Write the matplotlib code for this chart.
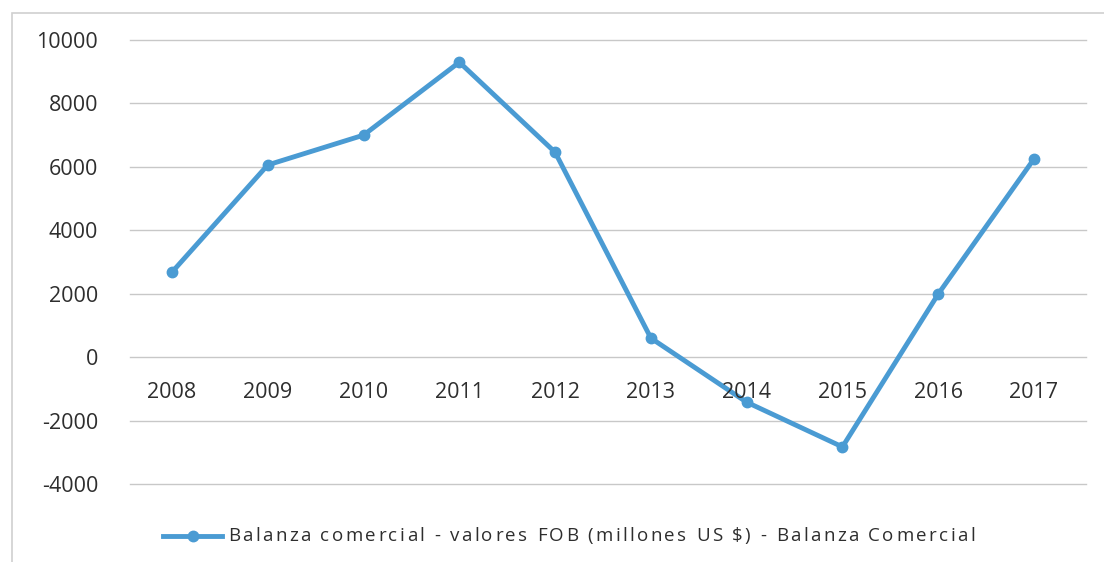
import matplotlib.pyplot as plt
from matplotlib.patches import Rectangle

plt.rcParams['font.family'] = ['Open Sans', 'DejaVu Sans']

years = ['2008', '2009', '2010', '2011', '2012', '2013', '2014', '2015', '2016', '2017']
balanza = [2680, 6060, 7000, 9300, 6460, 600, -1420, -2830, 1990, 6250]
yticks = [-4000, -2000, 0, 2000, 4000, 6000, 8000, 10000]
serie = 'Balanza comercial - valores FOB (millones US $) - Balanza Comercial'

azul = '#4A9BD3'
texto = '#2e2e2e'
rejilla = '#c8c8c8'
W, H = 1104, 562

fig = plt.figure(figsize=(W / 100, H / 100), dpi=100)
ax = fig.add_axes([130 / W, 1 - 484 / H, 956 / W, 444 / H])

# marco del grafico (solo arriba e izquierda visibles)
fig.patches.append(Rectangle((12 / W, -0.1), 1.2, 1 - 13 / H + 0.1,
                             transform=fig.transFigure, fill=False,
                             edgecolor='#d0d0d0', linewidth=1.2))

x = list(range(len(years)))
ax.plot(x, balanza, color=azul, linewidth=3.5, marker='o', markersize=7.5,
        solid_capstyle='round', solid_joinstyle='round', zorder=3, clip_on=False)

ax.set_xlim(-0.4385, 9.543)
ax.set_ylim(-4000, 10000)
ax.set_yticks(yticks)
ax.set_yticklabels([str(v) for v in yticks], fontsize=15.5, color=texto)
ax.tick_params(axis='y', length=0, pad=23)
ax.set_xticks([])
ax.yaxis.grid(True, color=rejilla, linewidth=1)
for gl in ax.get_ygridlines():
    gl.set_clip_on(False)
ax.set_axisbelow(True)
for s in ax.spines.values():
    s.set_visible(False)

# etiquetas de los anos bajo la linea del cero
for i, yr in enumerate(years):
    ax.text(i, -1100, yr, ha='center', va='center', fontsize=15.5, color=texto)

# leyenda
ly = 1 - 536 / H
fig.lines.append(plt.Line2D([163 / W, 222 / W], [ly, ly], transform=fig.transFigure,
                            color=azul, linewidth=3.5))
fig.lines.append(plt.Line2D([192.5 / W], [ly], transform=fig.transFigure,
                            color=azul, marker='o', markersize=7.5))

# texto de la leyenda con espaciado entre letras
fig.canvas.draw()
r = fig.canvas.get_renderer()


def ancho(s):
    t = fig.text(0, 0, s, fontsize=13.5)
    w = t.get_window_extent(r).width
    t.remove()
    return w


base = ancho('xx')
anchos = [ancho('x' + c + 'x') - base for c in serie]
track = (747 - sum(anchos)) / (len(serie) - 1)
px = 228.0
for c, w in zip(serie, anchos):
    if c != ' ':
        fig.text(px / W, ly, c, fontsize=13.5, color=texto, va='center', ha='left')
    px += w + track

fig.savefig('out.png', dpi=100)
